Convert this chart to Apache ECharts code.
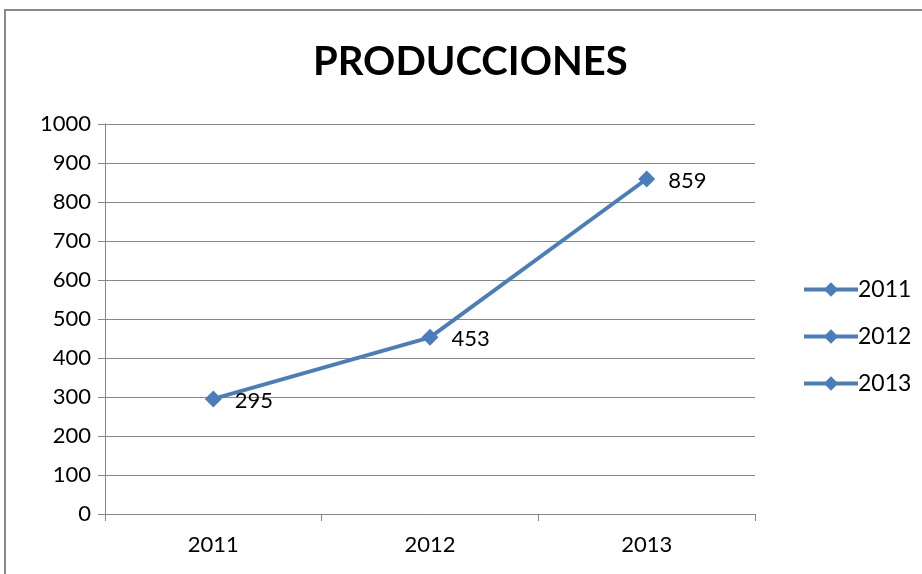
<!DOCTYPE html>
<html>
<head>
<meta charset="utf-8">
<script src="https://cdn.jsdelivr.net/npm/echarts@6/dist/echarts.min.js"></script>
<style>
    html, body { margin: 0; padding: 0; background: #fff; }
    #chart { width: 922px; height: 574px; }
</style>
</head>
<body>
<div id="chart"></div>
<script>
var years = ['2011', '2012', '2013'];
var produccion = [295, 453, 859];
var legendNames = ['2011', '2012', '2013'];

var lineColor = '#4a7ebb';
var font = 'Lato';

var chart = echarts.init(document.getElementById('chart'));

var series = legendNames.map(function (name, i) {
    return {
        name: name,
        type: 'line',
        data: i === 0 ? produccion : [],
        symbol: 'diamond',
        symbolSize: 17,
        color: lineColor,
        lineStyle: { width: 4, color: lineColor },
        itemStyle: { color: lineColor },
        label: {
            show: true,
            position: 'right',
            distance: 13,
            offset: [0, 2],
            fontFamily: font,
            fontSize: 22,
            color: '#000'
        },
        animation: false
    };
});

var option = {
    backgroundColor: '#fff',
    title: {
        text: 'PRODUCCIONES',
        left: 308,
        top: 37,
        textStyle: { fontFamily: font, fontSize: 40, fontWeight: 'bold', color: '#000' }
    },
    graphic: [{
        type: 'rect',
        shape: { x: 5, y: 10, width: 1000, height: 700 },
        style: { fill: 'none', stroke: '#898989', lineWidth: 2 },
        silent: true
    }],
    legend: {
        orient: 'vertical',
        left: 797,
        top: 273,
        itemGap: 24,
        itemWidth: 54,
        itemHeight: 18,
        data: legendNames,
        lineStyle: { width: 4 },
        textStyle: { fontFamily: font, fontSize: 23, color: '#000', padding: [0, 0, 0, -5] }
    },
    grid: { left: 105, right: 167, top: 124, bottom: 60 },
    xAxis: {
        type: 'category',
        data: years,
        axisLine: { lineStyle: { color: '#868686', width: 1 } },
        axisTick: { show: true, length: 7, lineStyle: { color: '#868686' } },
        axisLabel: { fontFamily: font, fontSize: 22, color: '#000', margin: 20 }
    },
    yAxis: {
        type: 'value',
        min: 0,
        max: 1000,
        interval: 100,
        axisLine: { show: true, lineStyle: { color: '#868686', width: 1 } },
        axisTick: { show: true, length: 7, lineStyle: { color: '#868686' } },
        axisLabel: {
            fontFamily: font, fontSize: 22, color: '#000', margin: 14,
            formatter: function (v) { return String(v); }
        },
        splitLine: { lineStyle: { color: '#868686', width: 1 } }
    },
    series: series
};

chart.setOption(option);
</script>
</body>
</html>
